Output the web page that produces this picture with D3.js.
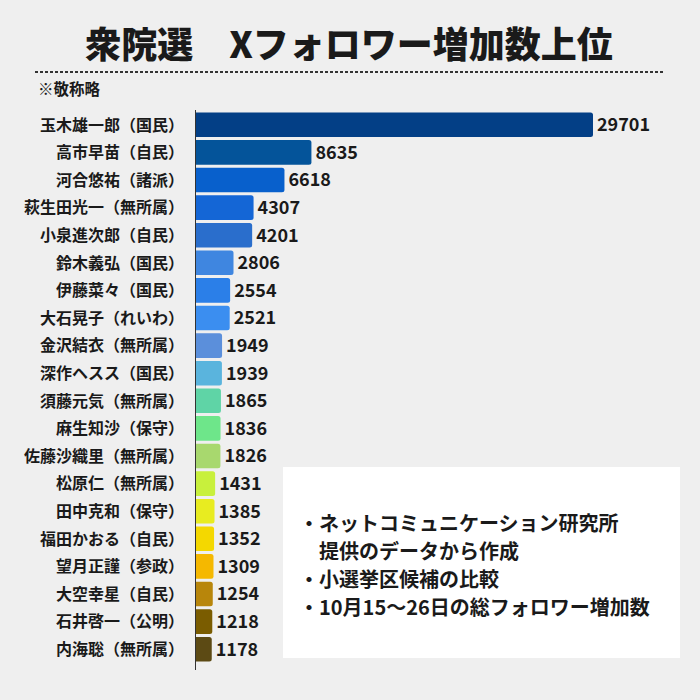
<!DOCTYPE html>
<html><head><meta charset="utf-8">
<script src="https://cdn.jsdelivr.net/npm/d3@7"></script>
<style>
html,body{margin:0;padding:0;background:#efefef;}
svg{display:block;font-family:"Noto Sans CJK JP","Noto Sans",sans-serif;}
</style></head>
<body>
<svg id="chart" width="700" height="700"></svg>
<script>
const names = ["玉木雄一郎（国民）","高市早苗（自民）","河合悠祐（諸派）","萩生田光一（無所属）","小泉進次郎（自民）","鈴木義弘（国民）","伊藤菜々（国民）","大石晃子（れいわ）","金沢結衣（無所属）","深作ヘスス（国民）","須藤元気（無所属）","麻生知沙（保守）","佐藤沙織里（無所属）","松原仁（無所属）","田中克和（保守）","福田かおる（自民）","望月正謹（参政）","大空幸星（自民）","石井啓一（公明）","内海聡（無所属）"];
const values = [29701,8635,6618,4307,4201,2806,2554,2521,1949,1939,1865,1836,1826,1431,1385,1352,1309,1254,1218,1178];
const colors = ["#033f86","#04549a","#0860cc","#1466d6","#2a6ecc","#3f86e0","#2b7fe8","#3b8ef0","#5b8fdb","#5ab4dd","#5fd4a6","#6ee68a","#a8d86e","#c8f03c","#e8ec20","#f4d800","#f5b800","#b8860b","#7a5c00","#5c4a14"];
const title = "衆院選　Xフォロワー増加数上位";
const note = "※敬称略";
const noteLines = ["・ネットコミュニケーション研究所","　提供のデータから作成","・小選挙区候補の比較","・10月15～26日の総フォロワー増加数"];

const svg = d3.select("#chart");
svg.append("rect").attr("width",700).attr("height",700).attr("fill","#efefef");

svg.append("text").attr("x",349).attr("y",58).attr("text-anchor","middle")
  .attr("font-size",36).attr("font-weight",900).attr("fill","#1a1a1a").text(title);
svg.append("line").attr("x1",35).attr("x2",664).attr("y1",72).attr("y2",72)
  .attr("stroke","#333").attr("stroke-width",2).attr("stroke-dasharray","3,2");
svg.append("text").attr("x",38).attr("y",95).attr("font-size",15.5).attr("font-weight",700)
  .attr("fill","#1a1a1a").text(note);

const x = d3.scaleLinear().domain([0,29701]).range([196,593]);
const y = d3.scaleBand().domain(names).range([111,663]).paddingInner(0.11).paddingOuter(0.055);

// note box
svg.append("rect").attr("x",283).attr("y",467).attr("width",397).attr("height",191).attr("fill","#ffffff");
const nt = svg.append("text").attr("font-size",20).attr("font-weight",700).attr("fill","#1a1a1a");
noteLines.forEach((t,i)=>{
  nt.append("tspan").attr("x",299).attr("y",531+i*28).text(t);
});

const g = svg.append("g");
names.forEach((n,i)=>{
  const x0 = x(0), x1 = x(values[i]), y0 = y(n), h = y.bandwidth(), r = 2.5;
  const p = `M${x0},${y0}H${x1-r}Q${x1},${y0} ${x1},${y0+r}V${y0+h-r}Q${x1},${y0+h} ${x1-r},${y0+h}H${x0}Z`;
  g.append("path").attr("d",p).attr("fill",colors[i]);
  g.append("text").attr("x",x1+4).attr("y",y0+h/2).attr("dy","0.35em")
    .attr("font-size",18).attr("font-weight",700).attr("fill","#1a1a1a").text(values[i]);
  g.append("text").attr("x",184).attr("y",y0+h/2).attr("dy","0.36em").attr("text-anchor","end")
    .attr("font-size",16).attr("font-weight",700).attr("fill","#1a1a1a").text(n);
});
svg.append("line").attr("x1",195.5).attr("x2",195.5).attr("y1",110).attr("y2",670)
  .attr("stroke","#333").attr("stroke-width",1);
</script>
</body></html>
